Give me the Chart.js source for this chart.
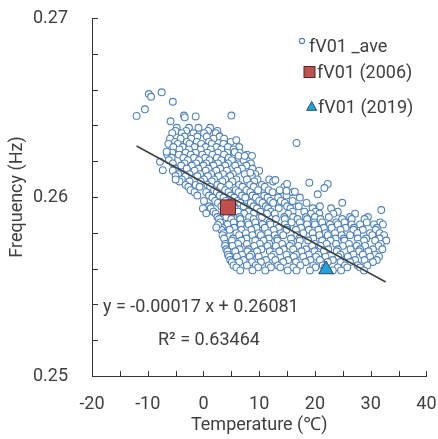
<!DOCTYPE html>
<html>
<head>
<meta charset="utf-8">
<script src="https://cdn.jsdelivr.net/npm/chart.js@4.4.0/dist/chart.umd.min.js"></script>
<style>
  html, body { margin: 0; padding: 0; background: #fff; }
  #wrap { width: 438px; height: 439px; position: relative; }
</style>
</head>
<body>
<div id="wrap"><canvas id="chart"></canvas></div>
<script>
// fV01 _ave cloud (frequency level -> temperatures)
const aveFreqRows = [
    0.26387, 0.26369, 0.26357, 0.26338, 0.26326, 0.26308, 0.26297, 0.26279, 0.26266, 0.26248,
    0.26237, 0.26219, 0.26206, 0.26188, 0.26176, 0.26159, 0.26147, 0.26128, 0.26117, 0.26098,
    0.26087, 0.26068, 0.26057, 0.26038, 0.26027, 0.26008, 0.25997, 0.25978, 0.25967, 0.25948,
    0.25937, 0.25918, 0.25907, 0.25888, 0.25877, 0.25858, 0.25847, 0.25828, 0.25817, 0.25798,
    0.25787, 0.25768, 0.25757, 0.25738, 0.25727, 0.25708, 0.25697, 0.25678, 0.25667, 0.25648,
    0.25637, 0.25618, 0.25607, 0.25590
];
const aveTempRows = [
    [-4.8, -2.6, -0.9, 1.2],
    [-5.0, -3.1, 0.8, 2.5],
    [-5.6, -3.9, -1.8, 0.1, 2.2],
    [-3.4, -1.1, 0.6, 2.9],
    [-6.0, -4.1, -2.2, 1.8, 3.7],
    [-5.1, -3.0, -1.2, 1.0, 4.9],
    [-6.3, -4.6, -2.5, -0.4, 1.5, 3.6],
    [-5.4, -3.7, -1.6, 0.4, 2.3, 4.4, 6.4],
    [-4.3, -2.6, -0.5, 1.3, 3.2, 5.4],
    [-5.6, -3.2, -1.4, 0.7, 2.6, 4.3, 6.5],
    [-6.5, -4.4, -2.3, -0.2, 1.6, 3.7, 7.8],
    [-5.7, -3.6, -1.7, 0.3, 2.4, 4.5, 6.3],
    [-6.2, -2.8, -0.8, 1.1, 3.2, 5.1, 7.2],
    [-5.5, -3.4, -1.3, 0.5, 2.6, 4.4, 8.5],
    [-4.0, -2.1, 0.0, 1.8, 3.9, 5.7, 7.7],
    [-5.1, -3.0, -0.9, 0.9, 3.0, 6.9, 8.8],
    [-5.5, -1.6, 0.4, 2.3, 4.2, 6.1, 10.0],
    [-4.5, -2.5, -0.6, 1.4, 3.5, 5.3, 7.4, 9.3],
    [-5.0, -3.2, -1.1, 0.8, 2.7, 4.8, 8.7],
    [-3.9, 0.1, 1.9, 3.9, 5.9, 7.8, 9.7, 11.8],
    [-4.3, -2.5, -0.5, 1.5, 3.4, 5.2, 9.1, 12.5],
    [-3.2, -1.4, 0.7, 2.5, 4.6, 6.4, 8.4, 10.5],
    [-2.7, -0.7, 1.2, 3.1, 7.0, 9.0, 11.0, 14.5],
    [-2.3, 1.9, 3.9, 5.8, 7.7, 9.8, 11.7, 13.7],
    [-1.6, 0.5, 2.4, 4.5, 6.3, 8.4, 12.4, 16.0],
    [-1.1, 1.0, 2.9, 4.9, 6.9, 8.8, 10.9, 14.9],
    [1.6, 3.6, 5.5, 7.5, 9.4, 11.5, 13.4, 17.3],
    [0.1, 2.1, 4.0, 6.1, 10.0, 12.0, 13.9, 16.0],
    [2.6, 4.6, 6.6, 8.5, 10.6, 12.5, 14.6, 18.5],
    [1.0, 3.2, 5.1, 7.2, 9.0, 11.2, 15.0, 17.1, 20.9],
    [1.3, 3.7, 5.6, 9.6, 11.6, 13.5, 15.6, 19.6, 22.9],
    [1.8, 4.1, 6.2, 8.1, 10.2, 12.1, 16.0, 18.1, 20.1, 24.1],
    [2.2, 5.0, 7.3, 9.0, 11.4, 12.8, 15.2, 19.3, 20.8, 23.3, 27.2],
    [2.5, 4.1, 6.5, 8.2, 10.5, 14.5, 16.1, 18.4, 20.0, 22.5, 26.3, 29.5],
    [2.8, 5.0, 6.6, 9.0, 13.0, 14.6, 16.9, 18.6, 21.0, 24.9, 26.6, 28.9],
    [3.0, 5.4, 7.9, 9.3, 11.9, 15.8, 17.3, 19.9, 21.3, 23.8, 25.3, 29.3, 31.7],
    [4.3, 6.7, 8.1, 10.6, 12.0, 14.6, 18.6, 20.0, 22.7, 24.1, 26.6, 28.1, 30.6, 32.2],
    [3.4, 5.5, 9.5, 11.0, 13.5, 15.0, 17.5, 21.6, 23.0, 25.5, 27.0, 31.1],
    [3.2, 4.7, 6.8, 8.6, 12.6, 14.9, 16.6, 18.9, 20.6, 24.6, 26.9, 28.6, 30.9],
    [3.6, 5.9, 7.6, 9.9, 11.6, 13.9, 17.9, 19.6, 21.9, 23.6, 27.6, 29.9, 31.6],
    [3.4, 6.4, 8.8, 10.3, 12.8, 14.3, 16.8, 20.8, 22.3, 24.8, 26.3, 30.3, 32.4],
    [3.7, 5.3, 7.7, 11.7, 13.2, 15.7, 17.2, 19.7, 23.7, 25.2, 27.7, 29.2, 31.6],
    [5.1, 6.8, 9.3, 10.8, 13.3, 17.3, 18.8, 21.3, 22.8, 25.3, 28.8, 30.8, 32.8],
    [3.9, 6.2, 7.8, 10.1, 11.8, 14.1, 15.8, 20.0, 22.1, 23.8, 26.1, 27.8, 31.8],
    [3.9, 5.2, 9.1, 11.5, 13.0, 15.5, 17.0, 19.5, 21.0, 25.0, 27.5, 29.0, 31.4],
    [4.1, 6.5, 8.1, 10.4, 14.4, 16.1, 18.4, 22.4, 24.1, 26.4, 28.1, 30.4, 32.1],
    [4.3, 5.7, 7.9, 9.6, 11.9, 13.6, 17.6, 19.9, 21.6, 23.9, 27.9, 29.6],
    [4.4, 6.9, 8.6, 12.6, 14.9, 16.6, 18.9, 20.6, 24.6, 26.9, 28.6, 30.8],
    [4.6, 6.0, 8.3, 9.9, 12.2, 16.2, 17.9, 20.2, 21.9, 24.2, 25.9, 29.9, 31.5],
    [4.8, 7.2, 11.2, 12.9, 15.2, 19.2, 20.9, 23.2, 27.2, 28.9, 31.1],
    [5.1, 6.4, 8.7, 10.3, 14.3, 16.6, 18.3, 22.3, 24.6, 26.3, 30.4],
    [5.4, 7.8, 9.4, 11.7, 13.4, 17.4, 19.7, 21.4, 25.4, 27.7, 29.4],
    [5.9, 9.8, 12.1, 13.8, 16.1, 20.1, 21.8, 24.1, 25.8, 28.1],
    [6.6, 8.8, 11.1, 15.1, 16.7, 19.1, 23.2, 24.7, 28.8]
];
// scattered points outside the dense cloud
const aveExtraTemp = [-12.0, -10.5, -9.8, -9.4, -7.5, -5.5, -5.9, -3.5, -3.35, -1.4, 5.0,
    5.9, 16.7, 5.6, 6.3, 7.4, 8.7, 8.4, 12.9, 15.0, 16.4, 14.9, 19.0, 22.3, 21.7, 20.5, 24.9, 31.9,
    -6.6, -7.3, -7.8, -5.0, -0.1, 0.5, 2.6, 2.3];
const aveExtraFreq = [0.26453, 0.26490, 0.26575, 0.26560, 0.26585, 0.26532, 0.26423, 0.26455, 0.26445, 0.26450, 0.26455,
    0.26318, 0.26302, 0.26251, 0.26230, 0.26230, 0.26230, 0.26136, 0.26095, 0.26073, 0.26030, 0.26035, 0.26080, 0.26073, 0.26050, 0.26015, 0.25968, 0.25927,
    0.26253, 0.26150, 0.26197, 0.26098, 0.25936, 0.25909, 0.25844, 0.25830];

const obs2006Temp = [4.4];
const obs2006Freq = [0.25942];
const obs2019Temp = [22.0];
const obs2019Freq = [0.25595];

const trendSlope = -0.00017;
const trendIntercept = 0.26081;
const trendTempRange = [-12, 32.7];

const xTickValues = [-20, -15, -10, -5, 0, 5, 10, 15, 20, 25, 30, 35, 40];
const xTickLabels = ['-20', '', '-10', '', '0', '', '10', '', '20', '', '30', '', '40'];
const yTickValues = [0.25, 0.252, 0.254, 0.256, 0.258, 0.26, 0.262, 0.264, 0.266, 0.268, 0.27];
const yTickLabels = ['0.25', '', '', '', '', '0.26', '', '', '', '', '0.27'];

const FONT = 'Roboto, "Noto Sans", "DejaVu Sans", sans-serif';
const TEXT = '#404040';

const aveData = [];
aveFreqRows.forEach((f, i) => {
    aveTempRows[i].forEach(t => aveData.push({ x: t, y: f }));
});
aveExtraTemp.forEach((t, i) => aveData.push({ x: t, y: aveExtraFreq[i] }));

const extras = {
    id: 'extras',
    afterDraw(chart) {
        const ctx = chart.ctx;
        const area = chart.chartArea;
        const xs = chart.scales.x;
        const ys = chart.scales.y;
        ctx.save();
        // inward tick marks
        ctx.strokeStyle = '#333';
        ctx.lineWidth = 1;
        ctx.beginPath();
        xTickValues.forEach(v => {
            const px = Math.round(xs.getPixelForValue(v)) + 0.5;
            ctx.moveTo(px, area.bottom);
            ctx.lineTo(px, area.bottom - 5);
        });
        yTickValues.forEach(v => {
            const py = Math.round(ys.getPixelForValue(v)) + 0.5;
            ctx.moveTo(area.left, py);
            ctx.lineTo(area.left + 6, py);
        });
        ctx.stroke();

        // legend
        ctx.fillStyle = TEXT;
        ctx.font = '18px ' + FONT;
        ctx.textBaseline = 'middle';
        ctx.textAlign = 'left';
        ctx.fillText('fV01 _ave', 309, 47);
        ctx.fillText('fV01 (2006)', 317, 73);
        ctx.fillText('fV01 (2019)', 318, 108);

        ctx.beginPath();
        ctx.arc(302, 41, 2.6, 0, Math.PI * 2);
        ctx.strokeStyle = '#4F81BD';
        ctx.lineWidth = 1.1;
        ctx.stroke();

        ctx.fillStyle = '#C0504D';
        ctx.fillRect(304, 66.5, 11, 11);
        ctx.strokeStyle = '#4a2a2a';
        ctx.lineWidth = 1;
        ctx.strokeRect(304, 66.5, 11, 11);

        ctx.beginPath();
        ctx.moveTo(311.7, 101.5);
        ctx.lineTo(316.7, 110.3);
        ctx.lineTo(306.7, 110.3);
        ctx.closePath();
        ctx.fillStyle = '#1FA3DC';
        ctx.fill();
        ctx.strokeStyle = '#2b4a66';
        ctx.stroke();

        // regression equation
        ctx.fillStyle = TEXT;
        ctx.fillText('y = -0.00017 x + 0.26081', 103, 307);
        ctx.fillText('R\u00B2 = 0.63464', 158, 340);
        ctx.restore();
    }
};

new Chart(document.getElementById('chart'), {
    type: 'scatter',
    data: {
        datasets: [
            {
                label: 'fV01 (2006)',
                data: obs2006Temp.map((t, i) => ({ x: t, y: obs2006Freq[i] })),
                pointStyle: 'rect',
                pointRadius: 10.6,
                backgroundColor: '#C0504D',
                borderColor: '#4a2a2a',
                borderWidth: 1,
                order: 0
            },
            {
                label: 'fV01 (2019)',
                data: obs2019Temp.map((t, i) => ({ x: t, y: obs2019Freq[i] })),
                pointStyle: 'triangle',
                pointRadius: 8.5,
                backgroundColor: '#1FA3DC',
                borderColor: '#2b4a66',
                borderWidth: 1,
                order: 1
            },
            {
                label: 'trend',
                data: trendTempRange.map(t => ({ x: t, y: trendIntercept + trendSlope * t })),
                showLine: true,
                pointRadius: 0,
                borderColor: '#404040',
                borderWidth: 1.5,
                order: 2
            },
            {
                label: 'fV01 _ave',
                data: aveData,
                pointStyle: 'circle',
                pointRadius: 3.4,
                backgroundColor: '#ffffff',
                borderColor: '#4F81BD',
                borderWidth: 1.1,
                order: 3
            }
        ]
    },
    options: {
        responsive: true,
        maintainAspectRatio: false,
        animation: false,
        layout: { padding: { top: 18, right: 11, left: 0, bottom: 0 } },
        plugins: {
            legend: { display: false },
            tooltip: { enabled: false }
        },
        scales: {
            x: {
                type: 'linear',
                min: -20,
                max: 40,
                afterFit: s => {
                    s.height = 63;
                    s.paddingLeft = 0;
                    s.paddingRight = 0;
                },
                afterBuildTicks: s => { s.ticks = xTickValues.map(v => ({ value: v })); },
                ticks: {
                    callback: (v, i) => xTickLabels[i],
                    font: { family: FONT, size: 18 },
                    color: TEXT,
                    padding: 18,
                    maxRotation: 0,
                    autoSkip: false
                },
                grid: { display: false, drawTicks: false },
                border: { display: true, color: '#333', width: 1 },
                title: {
                    display: true,
                    text: 'Temperature (\u2103)',
                    font: { family: FONT, size: 18 },
                    color: TEXT,
                    padding: { top: 0, bottom: 3 }
                }
            },
            y: {
                type: 'linear',
                min: 0.25,
                max: 0.27,
                afterFit: s => {
                    s.width = 92;
                    s.paddingTop = 0;
                    s.paddingBottom = 0;
                },
                afterBuildTicks: s => { s.ticks = yTickValues.map(v => ({ value: v })); },
                ticks: {
                    callback: (v, i) => yTickLabels[i],
                    font: { family: FONT, size: 18 },
                    color: TEXT,
                    padding: 24,
                    autoSkip: false
                },
                grid: { display: false, drawTicks: false },
                border: { display: true, color: '#333', width: 1 },
                title: {
                    display: true,
                    text: 'Frequency (Hz)',
                    font: { family: FONT, size: 18 },
                    color: TEXT,
                    padding: { top: 7, bottom: 0 }
                }
            }
        }
    },
    plugins: [extras]
});
</script>
</body>
</html>
